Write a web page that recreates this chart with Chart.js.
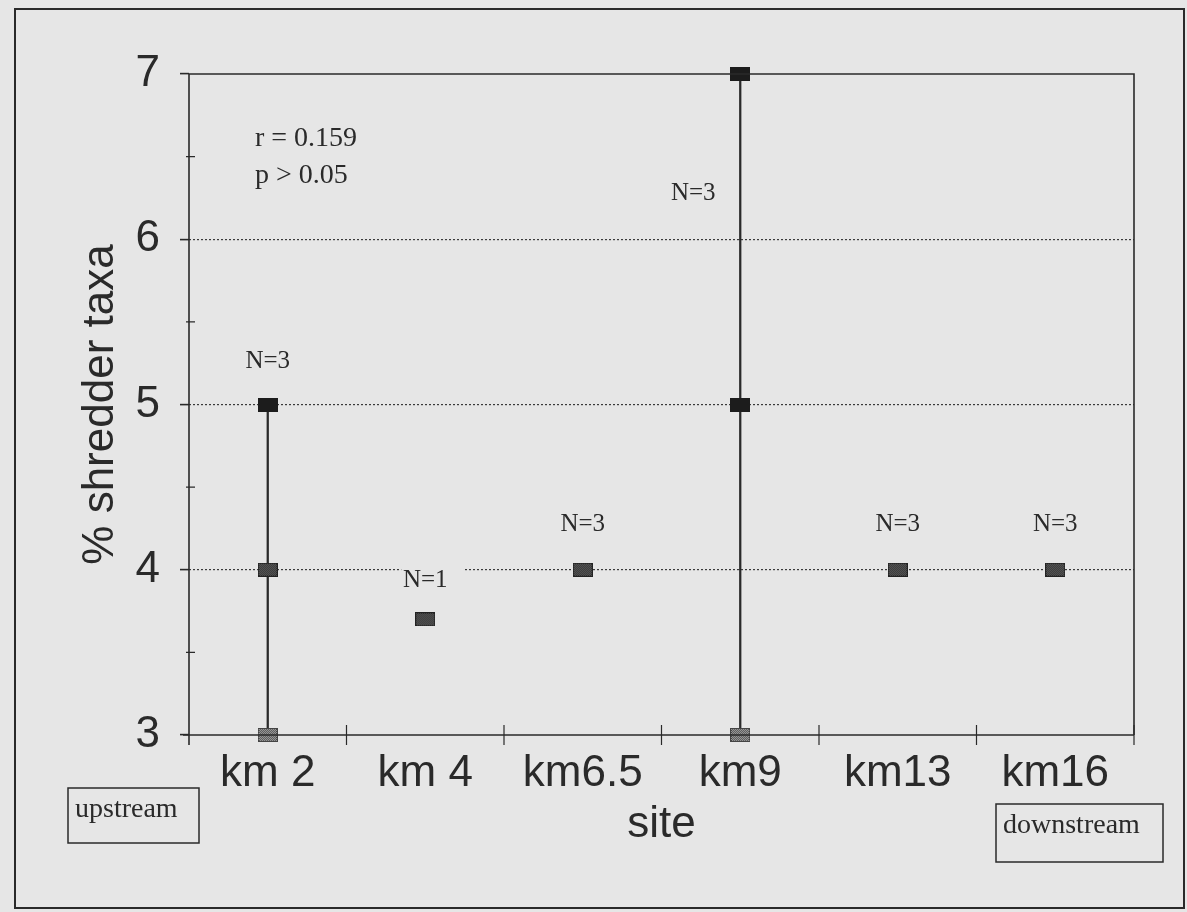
<!DOCTYPE html>
<html>
<head>
<meta charset="utf-8">
<script src="https://cdn.jsdelivr.net/npm/chart.js@4/dist/chart.umd.min.js"></script>
<style>
  html, body { margin: 0; padding: 0; background: #e6e6e6; }
  canvas { display: block; }
</style>
</head>
<body>
<canvas id="chartShredder" width="1187" height="912"></canvas>
<script>
// dados
const sites = ['km 2', 'km 4', 'km6.5', 'km9', 'km13', 'km16'];
const lowValues = [3, 3.7, 4, 3, 4, 4];
const midValues = [4, null, null, 5, null, null];
const highValues = [5, null, null, 7, null, null];
const sampleSizes = [3, 1, 3, 3, 3, 3];
const yTicks = [3, 4, 5, 6, 7];
const statsText = ['r = 0.159', 'p > 0.05'];

const BG = '#e6e6e6';
const INK = '#2a2a2a';

// marcadores quadrados pontilhados (como no original escaneado)
function makeMarker(dark, light) {
    const c = document.createElement('canvas');
    c.width = 20; c.height = 14;
    const g = c.getContext('2d');
    g.fillStyle = dark;
    g.fillRect(0, 0, 20, 14);
    if (light) {
        g.fillStyle = light;
        for (let y = 1; y < 13; y++) {
            for (let x = 1; x < 19; x++) {
                if ((x + y) % 2 === 0) g.fillRect(x, y, 1, 1);
            }
        }
    }
    return c;
}
const markSolid = makeMarker('#1c1c1c', null);
const markMedium = makeMarker('#222', '#6e6e6e');
const markLight = makeMarker('#444', '#b0b0b0');

// posicao dos rotulos N= (deslocamento em px em relacao ao ponto mais alto)
const labelPlacement = [
    { dx: 0, dy: -37 },
    { dx: 0, dy: -32, clear: true },
    { dx: 0, dy: -39 },
    { dx: -47, dy: 126 },
    { dx: 0, dy: -39 },
    { dx: 0, dy: -39 }
];

const extras = {
    id: 'extras',
    afterDraw(chart) {
        const { ctx, chartArea: a, scales: { x, y } } = chart;
        ctx.save();

        // moldura externa
        ctx.strokeStyle = INK;
        ctx.lineWidth = 2;
        ctx.strokeRect(15, 9, 1169, 899);

        // moldura da area do grafico
        ctx.lineWidth = 1.6;
        ctx.beginPath();
        ctx.moveTo(a.left, a.bottom + 10);
        ctx.lineTo(a.left, a.top);
        ctx.lineTo(a.right, a.top);
        ctx.lineTo(a.right, a.bottom);
        ctx.moveTo(a.left - 6, a.bottom);
        ctx.lineTo(a.right, a.bottom);
        ctx.stroke();

        // ticks menores do eixo y
        ctx.lineWidth = 1.2;
        ctx.beginPath();
        [3.5, 4.5, 5.5, 6.5].forEach(v => {
            const py = y.getPixelForValue(v);
            ctx.moveTo(a.left - 3, py);
            ctx.lineTo(a.left + 6, py);
        });
        // ticks do eixo x (entre categorias, cruzando o eixo)
        const step = (a.right - a.left) / sites.length;
        for (let i = 1; i <= sites.length; i++) {
            const px = a.left + step * i;
            ctx.moveTo(px, a.bottom - 10);
            ctx.lineTo(px, a.bottom + 10);
        }
        ctx.stroke();

        // rotulos N=
        ctx.font = '25px "Liberation Serif", "Times New Roman", serif';
        ctx.textAlign = 'center';
        ctx.textBaseline = 'alphabetic';
        sites.forEach((s, i) => {
            const top = highValues[i] != null ? highValues[i] : lowValues[i];
            const p = labelPlacement[i];
            const cx = x.getPixelForValue(i) + p.dx;
            const by = y.getPixelForValue(top) + p.dy;
            if (p.clear) {
                ctx.fillStyle = BG;
                ctx.fillRect(cx - 24, by - 26, 63, 30);
            }
            ctx.fillStyle = INK;
            ctx.fillText('N=' + sampleSizes[i], cx, by);
        });

        // estatistica
        ctx.font = '28px "Liberation Serif", "Times New Roman", serif';
        ctx.textAlign = 'left';
        ctx.fillText(statsText[0], 255, 146);
        ctx.fillText(statsText[1], 255, 183);

        // caixas upstream / downstream
        ctx.lineWidth = 1.5;
        ctx.strokeRect(68, 788, 131, 55);
        ctx.strokeRect(996, 804, 167, 58);
        ctx.fillText('upstream', 75, 817);
        ctx.fillText('downstream', 1003, 833);

        ctx.restore();
    }
};

const pointDefaults = {
    type: 'line',
    showLine: false,
    clip: false,
    pointRadius: 10,
    pointHoverRadius: 10
};

new Chart(document.getElementById('chartShredder'), {
    data: {
        labels: sites,
        datasets: [
            { ...pointDefaults, data: highValues, pointStyle: markSolid },
            { ...pointDefaults, data: midValues, pointStyle: c => c.raw === 5 ? markSolid : markMedium },
            { ...pointDefaults, data: lowValues, pointStyle: c => c.raw === 3 ? markLight : markMedium },
            {
                type: 'bar',
                data: lowValues.map((lo, i) => highValues[i] != null ? [lo, highValues[i]] : null),
                backgroundColor: INK,
                barThickness: 1.6
            }
        ]
    },
    options: {
        responsive: false,
        animation: false,
        events: [],
        layout: { padding: { top: 74, right: 53, bottom: 0, left: 0 } },
        plugins: { legend: { display: false }, tooltip: { enabled: false } },
        scales: {
            x: {
                type: 'category',
                offset: true,
                afterFit: s => { s.height = 177; },
                border: { display: false },
                grid: { display: true, drawOnChartArea: false, drawTicks: false, offset: true, color: 'rgba(0,0,0,0)' },
                ticks: {
                    padding: 17,
                    color: INK,
                    maxRotation: 0,
                    font: { family: '"Liberation Sans", Arial, sans-serif', size: 44, lineHeight: 1 }
                },
                title: {
                    display: true,
                    text: 'site',
                    color: INK,
                    padding: { top: 0, bottom: 61 },
                    font: { family: '"Liberation Sans", Arial, sans-serif', size: 44, lineHeight: 1.2 }
                }
            },
            y: {
                min: 3,
                max: 7,
                afterFit: s => { s.width = 189; },
                border: { display: false, dash: [2, 2] },
                grid: {
                    color: c => [4, 5, 6].includes(c.tick.value) ? '#3a3a3a' : 'rgba(0,0,0,0)',
                    lineWidth: 1.2,
                    drawTicks: true,
                    tickLength: 9,
                    tickWidth: 1.6,
                    tickColor: c => yTicks.includes(c.tick.value) ? INK : 'rgba(0,0,0,0)'
                },
                ticks: {
                    stepSize: 0.5,
                    padding: 20,
                    color: INK,
                    callback: v => yTicks.includes(v) ? v : '',
                    font: { family: '"Liberation Sans", Arial, sans-serif', size: 44, lineHeight: 1 }
                },
                title: {
                    display: true,
                    text: '% shredder taxa',
                    color: INK,
                    padding: { top: 74, bottom: 0 },
                    font: { family: '"Liberation Sans", Arial, sans-serif', size: 44, lineHeight: 1.2 }
                }
            }
        }
    },
    plugins: [extras]
});
</script>
</body>
</html>
